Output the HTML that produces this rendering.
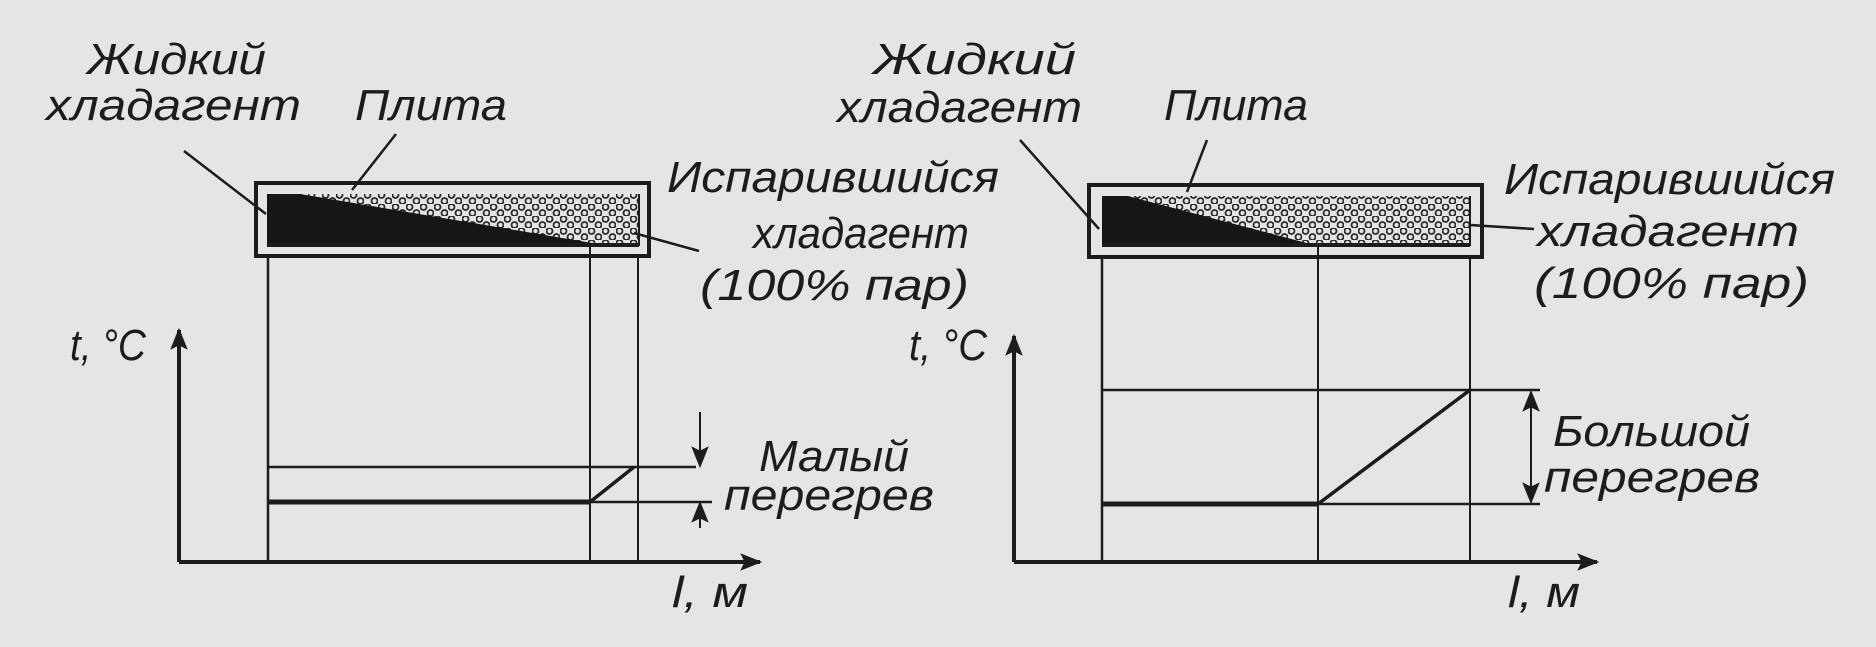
<!DOCTYPE html>
<html><head><meta charset="utf-8"><style>
html,body{margin:0;padding:0;background:#e6e5e3;}
svg{display:block;}
text{font-family:"Liberation Sans","DejaVu Sans",sans-serif;font-style:italic;font-size:44px;fill:#1c1c1c;}
</style></head><body>
<svg width="1876" height="647" viewBox="0 0 1876 647" xmlns="http://www.w3.org/2000/svg">
<defs>
<pattern id="dots" width="14" height="12" patternUnits="userSpaceOnUse">
<rect width="14" height="12" fill="#e4e4e4"/>
<circle cx="3.5" cy="3" r="3" fill="none" stroke="#2a2a2a" stroke-width="1.8"/>
<circle cx="10.5" cy="9" r="3" fill="none" stroke="#2a2a2a" stroke-width="1.8"/>
</pattern>
<marker id="big" viewBox="0 0 10 10" refX="9" refY="5" markerWidth="22" markerHeight="22" orient="auto" markerUnits="userSpaceOnUse">
<path d="M0,1 L10,5 L0,9 L2,5 Z" fill="#1c1c1c"/>
</marker>
</defs>
<g stroke="#1c1c1c" fill="none">
<!-- LEFT PANEL -->
<rect x="256" y="183" width="393" height="73" stroke-width="4"/>
<rect x="267" y="194" width="372" height="52" fill="url(#dots)" stroke="none"/>
<path d="M267,194 L300,194 L610,246 L267,246 Z" fill="#161616" stroke="none"/>
<line x1="267" y1="245" x2="639" y2="245" stroke-width="4"/>
<line x1="639" y1="194" x2="639" y2="246" stroke-width="2"/>
<line x1="268" y1="256" x2="268" y2="562" stroke-width="2.5"/>
<line x1="590" y1="246" x2="590" y2="562" stroke-width="2"/>
<line x1="638" y1="256" x2="638" y2="562" stroke-width="2"/>
<line x1="179" y1="562" x2="179" y2="330" stroke-width="4" marker-end="url(#big)"/>
<line x1="179" y1="562" x2="760" y2="562" stroke-width="4" marker-end="url(#big)"/>
<line x1="268" y1="467" x2="696" y2="467" stroke-width="2.5"/>
<line x1="268" y1="502" x2="590" y2="502" stroke-width="5"/>
<line x1="590" y1="502" x2="634" y2="467" stroke-width="3.5"/>
<line x1="590" y1="502" x2="712" y2="502" stroke-width="2.5"/>
<line x1="700" y1="412" x2="700" y2="466" stroke-width="2" marker-end="url(#big)"/>
<line x1="700" y1="528" x2="700" y2="503" stroke-width="2" marker-end="url(#big)"/>
<line x1="184" y1="151" x2="266" y2="214" stroke-width="2.5"/>
<line x1="396" y1="134" x2="352" y2="190" stroke-width="2.5"/>
<line x1="634" y1="233" x2="699" y2="251" stroke-width="2.5"/>
<!-- RIGHT PANEL -->
<rect x="1089" y="185" width="393" height="72" stroke-width="4"/>
<rect x="1102" y="196" width="368" height="50" fill="url(#dots)" stroke="none"/>
<path d="M1102,196 L1128,196 L1318,246 L1102,246 Z" fill="#161616" stroke="none"/>
<line x1="1102" y1="245" x2="1470" y2="245" stroke-width="4"/>
<line x1="1470" y1="196" x2="1470" y2="246" stroke-width="2"/>
<line x1="1102" y1="257" x2="1102" y2="562" stroke-width="2.5"/>
<line x1="1318" y1="246" x2="1318" y2="562" stroke-width="2"/>
<line x1="1470" y1="257" x2="1470" y2="562" stroke-width="2"/>
<line x1="1014" y1="562" x2="1014" y2="336" stroke-width="4" marker-end="url(#big)"/>
<line x1="1014" y1="562" x2="1597" y2="562" stroke-width="4" marker-end="url(#big)"/>
<line x1="1102" y1="390" x2="1540" y2="390" stroke-width="2.5"/>
<line x1="1102" y1="504" x2="1318" y2="504" stroke-width="5"/>
<line x1="1318" y1="504" x2="1470" y2="390" stroke-width="3.5"/>
<line x1="1318" y1="504" x2="1540" y2="504" stroke-width="2.5"/>
<line x1="1531" y1="447" x2="1531" y2="392" stroke-width="2" marker-end="url(#big)"/>
<line x1="1531" y1="447" x2="1531" y2="502" stroke-width="2" marker-end="url(#big)"/>
<line x1="1020" y1="140" x2="1099" y2="229" stroke-width="2.5"/>
<line x1="1207" y1="140" x2="1187" y2="192" stroke-width="2.5"/>
<line x1="1470" y1="225" x2="1534" y2="229" stroke-width="2.5"/>
</g>
<!-- LEFT TEXT -->
<text x="87" y="74" textLength="179" lengthAdjust="spacingAndGlyphs">Жидкий</text>
<text x="46" y="120" textLength="255" lengthAdjust="spacingAndGlyphs">хладагент</text>
<text x="355" y="120" textLength="152" lengthAdjust="spacingAndGlyphs">Плита</text>
<text x="667" y="192" textLength="332" lengthAdjust="spacingAndGlyphs">Испарившийся</text>
<text x="753" y="248" textLength="216" lengthAdjust="spacingAndGlyphs">хладагент</text>
<text x="700" y="300" textLength="269" lengthAdjust="spacingAndGlyphs">(100% пар)</text>
<text x="70" y="360" textLength="76" lengthAdjust="spacingAndGlyphs">t, °C</text>
<text x="759" y="471" textLength="150" lengthAdjust="spacingAndGlyphs">Малый</text>
<text x="724" y="510" textLength="210" lengthAdjust="spacingAndGlyphs">перегрев</text>
<text x="672" y="607" textLength="76" lengthAdjust="spacingAndGlyphs">l, м</text>
<!-- RIGHT TEXT -->
<text x="873" y="74" textLength="203" lengthAdjust="spacingAndGlyphs">Жидкий</text>
<text x="837" y="122" textLength="245" lengthAdjust="spacingAndGlyphs">хладагент</text>
<text x="1164" y="120" textLength="144" lengthAdjust="spacingAndGlyphs">Плита</text>
<text x="1504" y="194" textLength="331" lengthAdjust="spacingAndGlyphs">Испарившийся</text>
<text x="1537" y="246" textLength="262" lengthAdjust="spacingAndGlyphs">хладагент</text>
<text x="1534" y="298" textLength="275" lengthAdjust="spacingAndGlyphs">(100% пар)</text>
<text x="909" y="360" textLength="78" lengthAdjust="spacingAndGlyphs">t, °C</text>
<text x="1553" y="446" textLength="197" lengthAdjust="spacingAndGlyphs">Большой</text>
<text x="1544" y="492" textLength="216" lengthAdjust="spacingAndGlyphs">перегрев</text>
<text x="1508" y="607" textLength="72" lengthAdjust="spacingAndGlyphs">l, м</text>
</svg>
</body></html>
